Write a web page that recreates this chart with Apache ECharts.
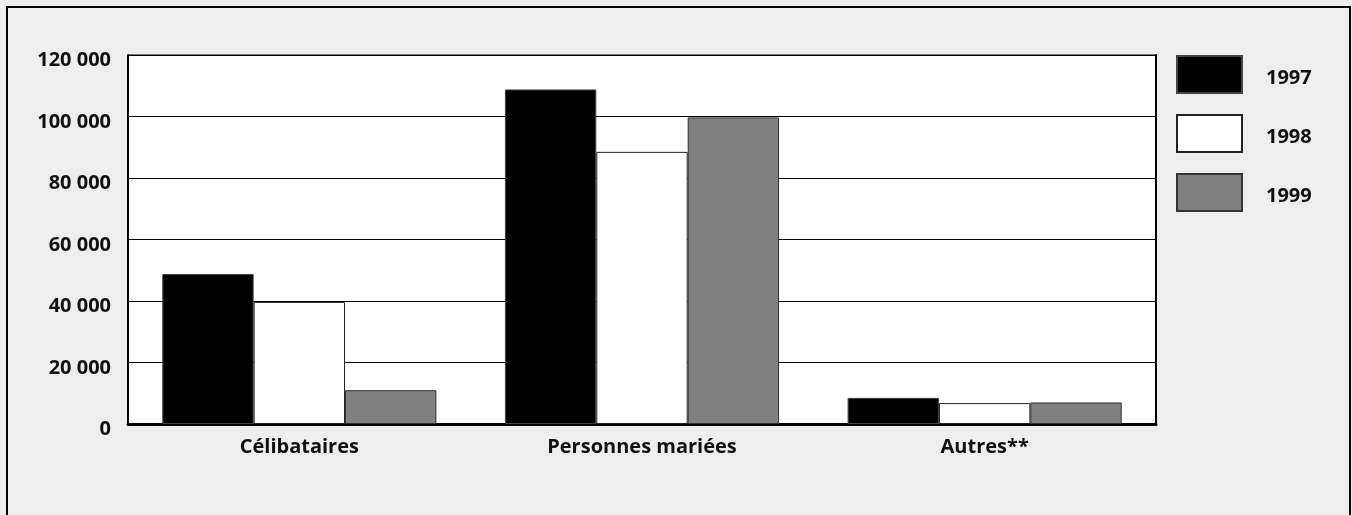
<!DOCTYPE html>
<html>
<head>
<meta charset="utf-8">
<script src="https://cdn.jsdelivr.net/npm/echarts@6/dist/echarts.min.js"></script>
<style>
html,body{margin:0;padding:0;background:#eeeeee;}
#c{width:1352px;height:515px;}
</style>
</head>
<body>
<div id="c"></div>
<script>
const categories = ['Célibataires', 'Personnes mariées', 'Autres**'];
const seriesNames = ['1997', '1998', '1999'];
const values1997 = [48800, 108800, 8500];
const values1998 = [39700, 88500, 6800];
const values1999 = [11000, 99700, 7000];
const yTicks = [0, 20000, 40000, 60000, 80000, 100000, 120000];

const FONT = '"Open Sans", "Noto Sans", sans-serif';
const FS = 20;
const fmt = v => String(v).replace(/\B(?=(\d{3})+(?!\d))/g, ' ');

const chart = echarts.init(document.getElementById('c'), null, {renderer: 'canvas'});
const styles = [
  {color: '#000000', borderColor: '#444444', borderWidth: 1},
  {color: '#ffffff', borderColor: '#222222', borderWidth: 1},
  {color: '#808080', borderColor: '#333333', borderWidth: 1}
];
const data = [values1997, values1998, values1999];

chart.setOption({
  backgroundColor: '#eeeeee',
  animation: false,
  graphic: [{
    type: 'rect',
    shape: {x: 7, y: 7, width: 1343, height: 600},
    style: {fill: 'none', stroke: '#000', lineWidth: 2},
    silent: true
  }],
  grid: {
    left: 128, right: 196, top: 55, bottom: 91,
    show: true, backgroundColor: '#ffffff', borderColor: '#000', borderWidth: 1
  },
  legend: {
    orient: 'vertical',
    left: 1176, top: 55, padding: 0,
    itemWidth: 65, itemHeight: 37, itemGap: 20,
    icon: 'rect',
    data: seriesNames,
    formatter: n => '{a|' + n + '}',
    textStyle: {
      rich: {a: {fontFamily: FONT, fontWeight: 'bold', fontSize: FS, color: '#111', padding: [7, 0, 0, 19]}}
    },
    selectedMode: false
  },
  xAxis: {
    type: 'category',
    data: categories,
    axisLine: {lineStyle: {color: '#000', width: 3}},
    axisTick: {show: false},
    axisLabel: {fontFamily: FONT, fontWeight: 'bold', fontSize: FS, color: '#111', margin: 13}
  },
  yAxis: [{
    type: 'value',
    min: 0, max: 120000, interval: 20000,
    axisLine: {show: true, lineStyle: {color: '#000', width: 2}},
    axisTick: {show: false},
    splitLine: {lineStyle: {color: '#000', width: 1}},
    axisLabel: {
      margin: 17,
      formatter: v => yTicks.includes(v) ? '{a|' + fmt(v) + '}' : '',
      rich: {a: {fontFamily: FONT, fontWeight: 'bold', fontSize: FS, color: '#111', padding: [11, 0, 0, 0]}}
    }
  }, {
    type: 'value', position: 'right',
    min: 0, max: 120000, interval: 20000,
    axisLine: {show: true, lineStyle: {color: '#000', width: 2}},
    axisTick: {show: false}, axisLabel: {show: false}, splitLine: {show: false}
  }],
  series: seriesNames.map((n, i) => ({
    name: n,
    type: 'bar',
    data: data[i],
    barGap: '0%',
    barCategoryGap: '20%',
    itemStyle: styles[i]
  }))
});
</script>
</body>
</html>
